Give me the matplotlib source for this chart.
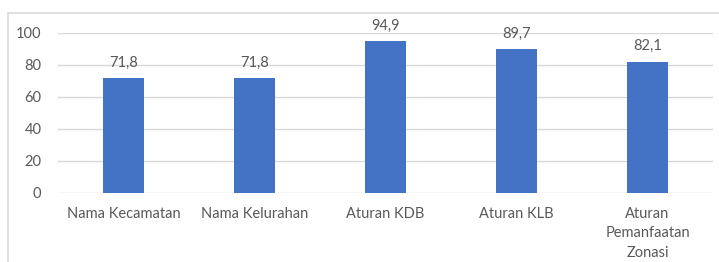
import matplotlib
matplotlib.use('Agg')
import matplotlib.pyplot as plt
from matplotlib.patches import Rectangle

categories = ['Nama Kecamatan', 'Nama Kelurahan', 'Aturan KDB', 'Aturan KLB',
              'Aturan\nPemanfaatan\nZonasi']
values = [71.8, 71.8, 94.9, 89.7, 82.1]
yticks = [0, 20, 40, 60, 80, 100]

plt.rcParams['font.family'] = ['Lato', 'DejaVu Sans']
text_color = '#595959'
bar_color = '#4472C4'
grid_color = '#D9D9D9'

fig = plt.figure(figsize=(7.19, 2.62), dpi=100)
ax = fig.add_axes([58 / 719, 69 / 262, 655 / 719, 160 / 262])

# chart area border (cut off on the right and bottom, as in the source)
fig.patches.append(Rectangle((8 / 719, -0.1), 1.2, (262 - 13) / 262 + 0.1,
                             transform=fig.transFigure, fill=False,
                             edgecolor='#D9D9D9', linewidth=1.2))

x = range(len(categories))
bars = ax.bar(x, values, width=0.32, color=bar_color, zorder=3)

for b, v in zip(bars, values):
    ax.annotate(f'{v:.1f}'.replace('.', ','), (b.get_x() + b.get_width() / 2, v),
                xytext=(0, 6), textcoords='offset points', ha='center', va='bottom',
                fontsize=10.5, color=text_color)

ax.set_xlim(-0.5, len(categories) - 0.5)
ax.set_ylim(0, 100)
ax.set_yticks(yticks)
ax.set_xticks(list(x))
ax.set_xticklabels(categories, linespacing=1.5)
ax.tick_params(axis='both', length=0, labelsize=10.5, labelcolor=text_color)
ax.tick_params(axis='y', pad=12)
ax.tick_params(axis='x', pad=10)
ax.grid(axis='y', color=grid_color, linewidth=1, zorder=0)
ax.set_axisbelow(True)
for s in ax.spines.values():
    s.set_visible(False)
ax.set_facecolor('none')

fig.savefig('out.png', dpi=100)
